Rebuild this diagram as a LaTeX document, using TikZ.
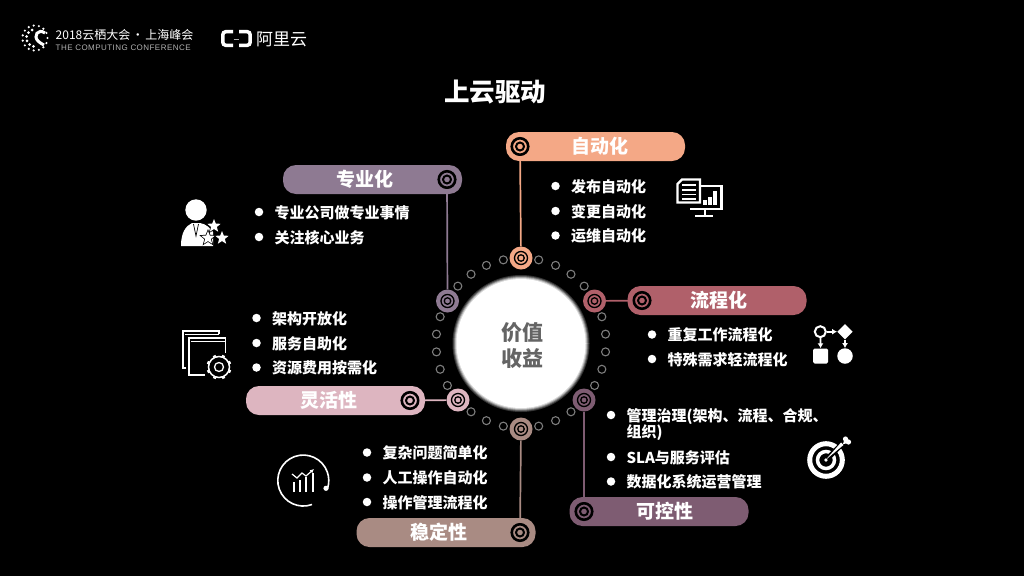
\documentclass[tikz,border=0pt]{standalone}
\usepackage{fontspec}
\setmainfont{Noto Sans CJK SC}
\newfontfamily\confenfont[LetterSpace=5.7]{Liberation Sans}
\usepackage{xcolor}
\usetikzlibrary{positioning,calc,shapes.geometric,arrows.meta}
\definecolor{autocol}{RGB}{244,168,134}
\definecolor{flowcol}{RGB}{176,96,106}
\definecolor{ctrlcol}{RGB}{126,92,114}
\definecolor{stabcol}{RGB}{169,139,131}
\definecolor{flexcol}{RGB}{221,181,192}
\definecolor{procol}{RGB}{142,122,146}
\definecolor{hubtext}{RGB}{100,100,100}
\definecolor{dotgray}{RGB}{125,125,125}

\begin{document}
\begin{tikzpicture}[
  x=1pt, y=-1pt,
  every node/.style={font=\bfseries, text=white, inner sep=0pt},
  pillbox/.style={rounded corners=13pt, minimum width=179pt, minimum height=29pt},
  pilltext/.style={font=\fontsize{19}{19}\bfseries\selectfont},
  itemtext/.style={font=\fontsize{15}{16}\bfseries\selectfont, anchor=west, align=left},
  bulletdot/.style={circle, fill=white, minimum size=8.5pt},
  ringdot/.style={circle, draw=dotgray, line width=1.1pt, minimum size=8pt},
  target/.style={circle, draw=black, line width=2.6pt, minimum size=16.5pt},
  targetin/.style={circle, draw=black, line width=2pt, minimum size=8pt},
  starmark/.style={star, star points=5, star point ratio=2.3, fill=white, minimum size=14pt},
  iconline/.style={draw=white, line width=1.3pt},
  flowarrow/.style={white, line width=1.8pt, -{Latex[length=5pt,width=6pt]}}
]
\fill[black] (0,0) rectangle (1024,576);
\useasboundingbox (0,0) rectangle (1024,576);

% header
\node[font=\fontsize{12}{13}\selectfont, anchor=west] (conf) at (55.5,35) {2018云栖大会\hspace{1.5pt}·\hspace{1.5pt}上海峰会};
\node[font=\fontsize{8}{8}\selectfont\confenfont, text=white!70!black, anchor=west] (confen) at (55.5,47.5) {THE COMPUTING CONFERENCE};
\foreach \a in {0,24,...,336}
  \fill[white] ([shift={(\a:12.5)}]35,38) circle (1.2);
\foreach \a in {100,130,160,190,220,250}
  \fill[white] ([shift={(\a:8.5)}]35,38) circle (1.5);
\draw[white, line width=3pt] (45,33) .. controls (38,28) and (33,36) .. (38,41) .. controls (40,43) and (42,44) .. (44,45);
\node[font=\fontsize{17}{17}\selectfont, anchor=west] (aliyun) at (256,39) {阿里云};
\draw[white, line width=3.5pt, rounded corners=3pt] (233,31.7) -- (222.8,31.7) -- (222.8,45.3) -- (233,45.3);
\draw[white, line width=3.5pt, rounded corners=3pt] (239,31.7) -- (250.2,31.7) -- (250.2,45.3) -- (239,45.3);
\draw[white!70!black, line width=1pt] (233.5,39) -- (238.5,39);

% title
\node[font=\fontsize{25.5}{26}\bfseries\selectfont] (title) at (495,92) {上云驱动};

% hub
\foreach \r/\g in {68.5/20,67.5/40,66.5/65,65.5/85}
  \fill[white!\g!black] (521,343.5) circle (\r);
\node[circle, fill=white, minimum size=129pt] (hub) at (521,343.5) {};
\node[font=\fontsize{21}{26}\bfseries\selectfont, text=hubtext, align=center] (hublabel) at (522,346) {价值\\收益};
\foreach \a in {12,24,36,48,72,84,96,108,120,144,156,168,192,204,216,240,252,264,276,288,312,324,336,348}
  \node[ringdot] (dot\a) at ([shift={(\a-90:85)}]521,343) {};

% pills: name/x/y/colour/ring x/text x/label/hub x/hub y
\foreach \n/\x/\y/\c/\rx/\tx/\t/\hx/\hy in {
  auto/595.5/146.5/autocol/520/600/自动化/521/258,
  pro/372.5/179.5/procol/447/365/专业化/447.5/301,
  flow/717/300.5/flowcol/642/719/流程化/594.5/301,
  flex/335.5/400.5/flexcol/410/329/灵活性/458/400,
  stab/446/532.5/stabcol/520/439/稳定性/521/429,
  ctrl/659/511.5/ctrlcol/584/665/可控性/584/400}{
  \node[circle, fill=\c, minimum size=23pt] (hub\n) at (\hx,\hy) {};
  \node[pillbox, fill=\c] (pill\n) at (\x,\y) {};
  \node[target] (ring\n) at (\rx,\y) {};
  \node[targetin] (ringin\n) at (\rx,\y) {};
  \draw[\c, line width=1.7pt] (hub\n) -- (ring\n);
  \node[pilltext] (label\n) at (\tx,\y) {\t};
  \node[target, minimum size=13pt, line width=1.3pt] (hubring\n) at (\hx,\hy) {};
  \node[targetin, minimum size=6.5pt, line width=1.3pt] (hubin\n) at (\hx,\hy) {};
}

% lists: name/bullet x/bullet y/text
\foreach \n/\x/\y/\t in {
  a1/555.5/186/发布自动化, a2/555.5/211/变更自动化, a3/555.5/235.5/运维自动化,
  b1/259/212/专业公司做专业事情, b2/259/237/关注核心业务,
  c1/652/334.5/重复工作流程化, c2/652/359/特殊需求轻流程化,
  d1/256.5/318/架构开放化, d2/256.5/343/服务自助化, d3/256.5/367.5/资源费用按需化,
  e1/367/452.5/复杂问题简单化, e2/367/477.5/人工操作自动化, e3/367/502/操作管理流程化,
  f2/611/457/SLA与服务评估, f3/611/481.5/数据化系统运营管理}{
  \node[bulletdot] (bul\n) at (\x,\y) {};
  \node[itemtext, right=11pt of bul\n, yshift=-0.7pt] (txt\n) {\t};
}
\node[bulletdot] (bulf1) at (611,415) {};
\node[itemtext] (txtf1) at (626.3,424.5) {管理治理(架构、流程、合规、\\组织)};

% person icon
\fill[white] (196,210) circle (10.7);
\fill[white] (181,246) .. controls (181,232) and (186,226) .. (192,223) -- (200,223) .. controls (206,224) and (210,228) .. (213,232) -- (213,246) -- cycle;
\draw[black, line width=.7pt] (193.5,224) -- (196,236) -- (198.5,224);
\node[starmark, fill=black, minimum size=18pt] (star1b) at (214,226) {};
\node[starmark] (star1) at (214,226) {};
\node[starmark, fill=black, minimum size=18pt] (star2b) at (208,238) {};
\node[starmark] (star2) at (208,238) {};
\node[starmark] (star3) at (222,238) {};

% document and monitor icon
\draw[iconline, line width=2.2pt] (690,209) -- (721.5,209) -- (721.5,186) -- (700,186);
\draw[iconline, line width=2.2pt, fill=black] (682,179.5) -- (700,179.5) -- (700,202.5) -- (677.5,202.5) -- (677.5,184) -- cycle;
\foreach \y in {185,190,194.5,199}
  \draw[white, line width=1.7pt] (682,\y) -- (696,\y);
\draw[white, line width=2.4pt] (705,209) -- (705,216);
\draw[white, line width=2.4pt] (695,216) -- (713,216);
\foreach \x/\y in {705/200,710/197,715/191}
  \fill[white] (\x-2,\y) rectangle (\x+2,204.5);

% flow icon
\node[diamond, fill=white, minimum size=15.5pt] (flowd) at (845,331.7) {};
\node[circle, draw=white, line width=2pt, minimum size=11pt] (flowr) at (820.3,331.7) {};
\node[rounded corners=1.5pt, fill=white, minimum size=15pt] (flows) at (820.7,356) {};
\node[circle, fill=white, minimum size=15.5pt] (flowc) at (845,356) {};
\draw[flowarrow] (flowr) -- (flowd);
\draw[flowarrow] (flowr) -- (flows);
\draw[flowarrow] (flowd) -- (flowc);

% frames and gear icon
\draw[iconline] (186,368) -- (183,368) -- (183,331) -- (219,331) -- (219,334);
\draw[white, line width=.8pt] (185,334.5) -- (219,334.5);
\draw[iconline] (205,375) -- (189,375) -- (189,338) -- (225.5,338) -- (225.5,353);
\draw[white, line width=.8pt] (191,341.5) -- (225.5,341.5);
\fill[black] (219,367) circle (14);
\draw[white, line width=1.5pt] (219,367) circle (10.5);
\draw[white, line width=1.3pt] (219,367) circle (4.5);
\foreach \a in {0,45,...,315}
  \draw[white, line width=3pt] ([shift={(\a+22:10)}]219,367) -- ([shift={(\a+22:12.5)}]219,367);

% chart icon
\draw[white, line width=1.6pt] (312,504.5) arc[start angle=70, end angle=378, radius=25.5];
\fill[white] (326,488.3) circle (2.6);
\foreach \x/\y in {294/482,300/480,306/477,313/473}
  \draw[white, line width=1.5pt] (\x,492) -- (\x,\y);
\draw[white, line width=1.2pt, -{Latex[length=4pt,width=4pt]}] (292,474) -- (297,478) -- (302,473) -- (306,476) -- (314,469);

% target icon
\draw[white, line width=5pt] (826,460) circle (16.3);
\draw[white, line width=3.5pt] (826,460) circle (8.5);
\fill[white] (826,460) circle (1.8);
\draw[black, line width=5pt] (827,459) -- (842,444);
\fill[white] (825.5,460) -- (841,442.5) -- (843.5,445) -- cycle;
\fill[white] (845.5,439) circle (2.6) (848.5,442) circle (2.6) (843,444) -- (845,437) -- (850.5,443) -- cycle;
\end{tikzpicture}
\end{document}
